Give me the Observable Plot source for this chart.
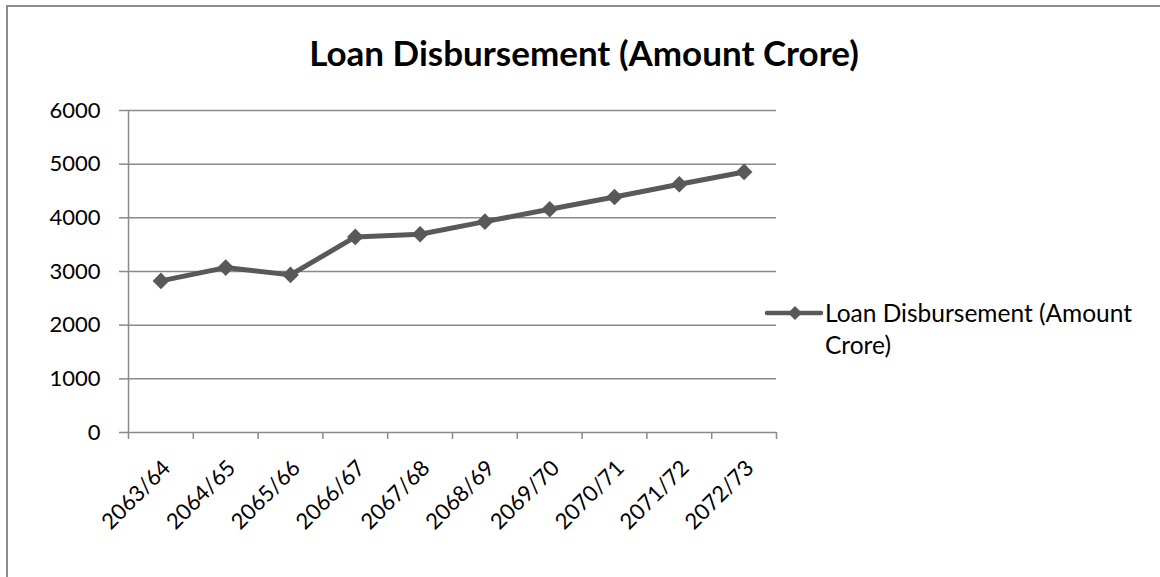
<!DOCTYPE html>
<html>
<head>
<meta charset="utf-8">
<script src="https://cdn.jsdelivr.net/npm/d3@7"></script>
<script src="https://cdn.jsdelivr.net/npm/@observablehq/plot@0.6"></script>
<style>
  html, body { margin: 0; padding: 0; background: #fff; }
  #wrap { position: relative; width: 1160px; height: 577px; overflow: hidden; font-family: Lato, "Open Sans", sans-serif; }
  #frame { position: absolute; left: 6px; top: 5px; width: 1200px; height: 700px; border-top: 2px solid #8c8c8c; border-left: 2px solid #8c8c8c; }
  #title { position: absolute; left: 0; top: 32px; width: 1168px; text-align: center; font-weight: bold; font-size: 35px; line-height: 40px; color: #000; }
  #legend { position: absolute; left: 764px; top: 297px; }
  #legend svg { position: absolute; left: 0; top: 6px; }
  #legend .txt { position: absolute; left: 61px; top: 0; white-space: nowrap; font-size: 24.5px; line-height: 32px; color: #000; }
  #chart { position: absolute; left: 0; top: 0; }
</style>
</head>
<body>
<div id="wrap">
  <div id="frame"></div>
  <div id="title">Loan Disbursement (Amount Crore)</div>
  <div id="chart"></div>
  <div id="legend">
    <svg width="60" height="20"><line x1="3" y1="10" x2="57" y2="10" stroke="#595959" stroke-width="4.5" stroke-linecap="round"/><path d="M31,3 L38,10 L31,17 L24,10 Z" fill="#595959"/></svg>
    <div class="txt">Loan Disbursement (Amount<br>Crore)</div>
  </div>
</div>
<script>
const seriesName = "Loan Disbursement (Amount Crore)";
const categories = ["2063/64", "2064/65", "2065/66", "2066/67", "2067/68", "2068/69", "2069/70", "2070/71", "2071/72", "2072/73"];
const values = [2825, 3073, 2937, 3644, 3694, 3929, 4160, 4389, 4625, 4855];
const yTicks = [0, 1000, 2000, 3000, 4000, 5000, 6000];

const data = categories.map((c, i) => ({category: c, pos: i + 0.5, value: values[i]}));
const boundaries = d3.range(categories.length + 1);
const centers = categories.map((c, i) => i + 0.5);
const grid = "#8a8a8a";
const lineColor = "#595959";

const chart = Plot.plot({
  width: 1160,
  height: 577,
  marginLeft: 128,
  marginRight: 384,
  marginTop: 110,
  marginBottom: 145,
  x: {domain: [0, categories.length], axis: null},
  y: {domain: [0, 6000], axis: null},
  style: {fontFamily: "Lato, 'Open Sans', sans-serif", fontSize: "22px", color: "#000", background: "transparent"},
  marks: [
    Plot.gridY(yTicks, {stroke: grid, strokeOpacity: 1, strokeWidth: 1.5}),
    Plot.ruleX([0], {stroke: grid, strokeWidth: 1.5}),
    Plot.axisY(yTicks, {anchor: "left", tickSize: 9, tickPadding: 19, stroke: grid, strokeWidth: 1.5, fill: "#000", label: null, tickFormat: d => String(d)}),
    Plot.axisX(boundaries, {anchor: "bottom", tickSize: 7, stroke: grid, strokeWidth: 1.5, tickFormat: () => "", label: null}),
    Plot.axisX(centers, {anchor: "bottom", tickSize: 0, tickPadding: 30, tickRotate: -45, dx: 6, dy: 2, fill: "#000", label: null, tickFormat: v => categories[Math.floor(v)]}),
    Plot.line(data, {x: "pos", y: "value", stroke: lineColor, strokeWidth: 5}),
    Plot.dot(data, {x: "pos", y: "value", symbol: "diamond2", r: 7.5, fill: lineColor, stroke: "none"})
  ]
});
document.getElementById("chart").appendChild(chart);
</script>
</body>
</html>
